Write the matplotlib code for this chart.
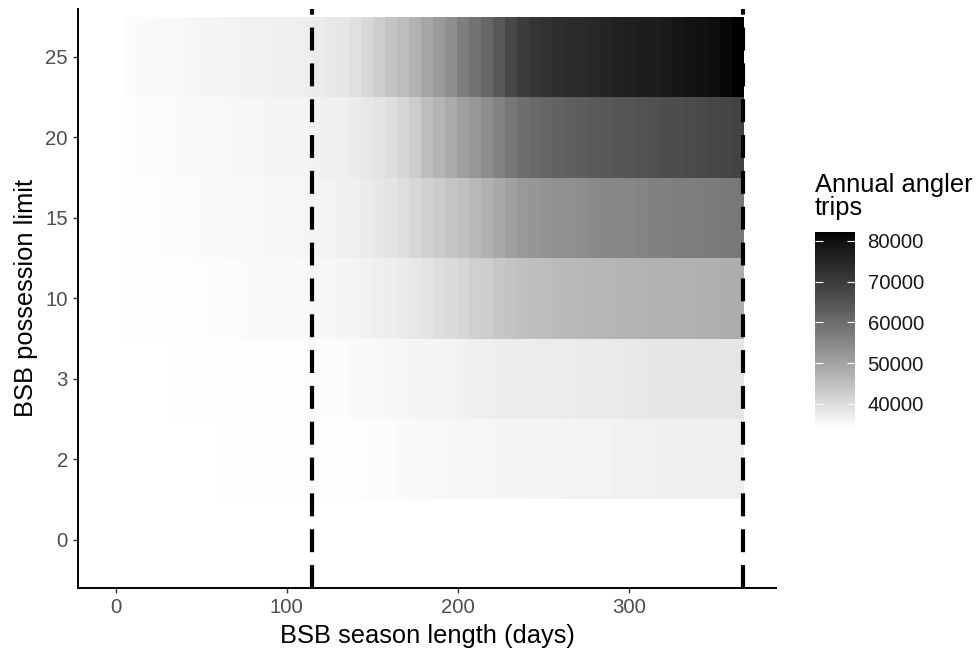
import numpy as np
import matplotlib
matplotlib.use("Agg")
import matplotlib.pyplot as plt
from matplotlib.colors import ListedColormap, Normalize

plt.rcParams["font.family"] = ["Liberation Sans", "DejaVu Sans"]

# possession limits, bottom to top
LIMITS = ["0", "2", "3", "10", "15", "20", "25"]
STEP = 7  # weekly season-length grid (days)
FIRST_DAY = {"0": 0, "2": 63, "3": 35, "10": 7, "15": 7, "20": 7, "25": 7}
VLINES = [115, 367]

TRIPS_0 = [34100] * 53
TRIPS_2 = [34400, 34400, 34400, 34450, 34450, 34450, 34500, 34500, 34550, 34550,
           34600, 34650, 34700, 34750, 34850, 34900, 35100, 35200, 35250, 35450,
           35500, 35600, 35700, 35800, 35850, 35950, 36050, 36100, 36100, 36200,
           36200, 36300, 36300, 36400, 36400, 36450, 36450, 36550, 36550, 36600,
           36600, 36700, 36700, 36800]
TRIPS_3 = [34450, 34450, 34500, 34500, 34500, 34550, 34550, 34600, 34600, 34650,
           34650, 34700, 34750, 34800, 34850, 34900, 35100, 35250, 35450, 35600,
           35800, 35950, 36100, 36300, 36450, 36600, 36800, 36950, 37050, 37150,
           37200, 37300, 37350, 37450, 37550, 37650, 37700, 37800, 37900, 37950,
           38050, 38100, 38200, 38300, 38300, 38400, 38400, 38450]
TRIPS_10 = [34300, 34350, 34450, 34500, 34500, 34600, 34600, 34700, 34750, 34850,
            34900, 34900, 35000, 35100, 35200, 35250, 35450, 35600, 35800, 36100,
            36450, 36800, 37100, 37500, 38100, 38900, 39600, 40300, 41200, 42000,
            42700, 43600, 44300, 44900, 45200, 45500, 45900, 46100, 46200, 46400,
            46600, 46800, 46900, 47100, 47300, 47500, 47600, 47600, 47800, 48000,
            48200, 48200]
TRIPS_15 = [34400, 34500, 34600, 34700, 34800, 34850, 34900, 35000, 35100, 35200,
            35250, 35350, 35450, 35600, 35700, 35800, 36100, 36300, 36600, 36900,
            37500, 38100, 38900, 39600, 40700, 41900, 42900, 44000, 45000, 46200,
            47500, 48900, 50500, 51800, 52500, 52900, 53300, 53600, 54000, 54400,
            54800, 55100, 55300, 55700, 56100, 56300, 56700, 56800, 57000, 57200,
            57400, 57600]
TRIPS_20 = [34600, 34700, 34800, 34850, 34900, 35000, 35100, 35200, 35300, 35450,
            35500, 35600, 35800, 35850, 35950, 36100, 36500, 36600, 36900, 37500,
            38100, 38800, 39600, 41200, 42900, 45200, 46900, 48700, 50700, 52300,
            54000, 55900, 58000, 59900, 60800, 61600, 62400, 62800, 63400, 63800,
            64200, 64600, 65000, 65400, 65800, 66300, 66500, 66900, 67300, 67700,
            68100, 68500]
TRIPS_25 = [34800, 34900, 35100, 35300, 35400, 35600, 35800, 35950, 36100, 36300,
            36500, 36500, 36600, 36800, 36900, 37100, 37600, 37950, 38300, 39400,
            40800, 42400, 44100, 45500, 47300, 49400, 51600, 53800, 56500, 59100,
            61400, 64200, 67500, 70000, 71600, 72400, 73300, 73700, 73900, 74400,
            75400, 76000, 76500, 76800, 77000, 77500, 78700, 79200, 79600, 80200,
            81100, 82200]
TRIPS = {"0": TRIPS_0, "2": TRIPS_2, "3": TRIPS_3, "10": TRIPS_10,
         "15": TRIPS_15, "20": TRIPS_20, "25": TRIPS_25}
CBAR_TICKS = [40000, 50000, 60000, 70000, 80000]


def lab_gray_cmap(n=256):
    # white -> black interpolated in CIELAB lightness, like scale_fill_gradient
    grays = []
    for t in np.linspace(0, 1, n):
        L = 100 * (1 - t)
        Y = ((L + 16) / 116) ** 3 if L > 8 else L / 903.3
        g = 12.92 * Y if Y <= 0.0031308 else 1.055 * Y ** (1 / 2.4) - 0.055
        g = min(max(g, 0), 1)
        grays.append((g, g, g))
    return ListedColormap(grays)


cmap = lab_gray_cmap()
all_vals = [v for vals in TRIPS.values() for v in vals]
norm = Normalize(vmin=min(all_vals), vmax=max(all_vals))

fig = plt.figure(figsize=(9.8, 6.54), dpi=100)
ax = fig.add_axes([78 / 980, 66 / 654, 698 / 980, 579.4 / 654])

x_lo, x_hi = [], []
mesh = None
for row, limit in enumerate(LIMITS):
    vals = np.array(TRIPS[limit], dtype=float)
    days = FIRST_DAY[limit] + STEP * np.arange(len(vals))
    edges = np.append(days - STEP / 2, days[-1] + STEP / 2)
    x_lo.append(edges[0])
    x_hi.append(edges[-1])
    mesh = ax.pcolormesh(edges, [row - 0.5, row + 0.5], vals[np.newaxis, :],
                         cmap=cmap, norm=norm, shading="flat",
                         edgecolors="none", antialiased=False)

for day in VLINES:
    ax.axvline(day, color="black", linewidth=3.0, dashes=(5.5, 3.1))

lo = min(x_lo + VLINES)
hi = max(x_hi + VLINES)
pad = 0.05 * (hi - lo)
ax.set_xlim(lo - pad, hi + pad)
ax.set_ylim(-0.6, len(LIMITS) - 0.4)

ax.set_xticks([0, 100, 200, 300])
ax.set_yticks(range(len(LIMITS)))
ax.set_yticklabels(LIMITS)
ax.tick_params(axis="both", labelsize=14.7, labelcolor="#4D4D4D", color="#333333",
               length=3.8, width=1.0, pad=3.5)
for side in ["top", "right"]:
    ax.spines[side].set_visible(False)
for side in ["left", "bottom"]:
    ax.spines[side].set_linewidth(1.4)
    ax.spines[side].set_color("black")

ax.set_xlabel("BSB season length (days)", fontsize=18.4)
ax.set_ylabel("BSB possession limit", fontsize=18.4)
ax.xaxis.set_label_coords(0.5, -0.062)
ax.yaxis.set_label_coords(-0.057, 0.5)

cax = fig.add_axes([815 / 980, (654 - 428) / 654, 40 / 980, 196 / 654])
cb = fig.colorbar(mesh, cax=cax, ticks=CBAR_TICKS)
cb.outline.set_visible(False)
cb.ax.set_yticklabels([str(t) for t in CBAR_TICKS])
cb.ax.tick_params(direction="in", left=True, right=True, color="white",
                  length=5.8, width=0.8, labelsize=14.7, pad=9, labelcolor="#1A1A1A")
fig.text(815 / 980, (654 - 220) / 654, "Annual angler\ntrips", fontsize=18.4,
         ha="left", va="bottom", linespacing=0.95)

fig.savefig("out.png", dpi=100)
